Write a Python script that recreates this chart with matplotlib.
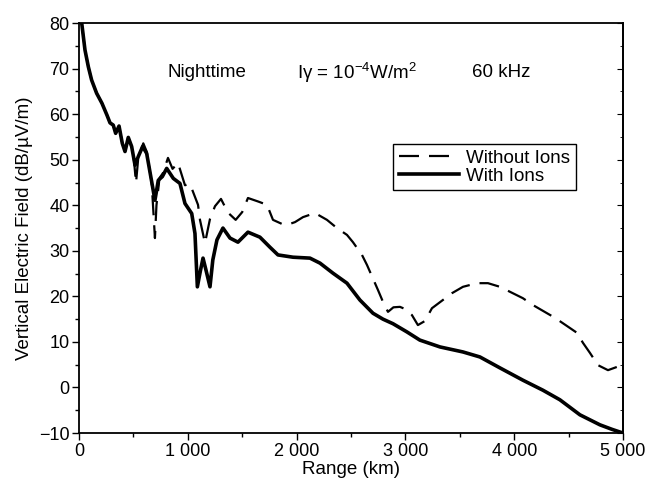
import matplotlib
matplotlib.use("Agg")
import matplotlib.pyplot as plt
from matplotlib.ticker import MultipleLocator

plt.rcParams['font.family'] = ['Liberation Sans', 'DejaVu Sans']
plt.rcParams['mathtext.fontset'] = 'custom'
plt.rcParams['mathtext.rm'] = 'Liberation Sans'

# Range (km) and field (dB/uV/m)
with_ions_x = [15, 25, 55, 86, 116, 162, 211, 257, 285, 315, 337, 368, 398, 423, 453,
               484, 515, 545, 585, 622, 668, 698, 729, 766, 806, 867, 928, 974, 1036,
               1066, 1088, 1115, 1140, 1170, 1204, 1230, 1268, 1323, 1388, 1461, 1553,
               1663, 1755, 1829, 1967, 2123, 2215, 2334, 2463, 2582, 2702, 2794, 2886,
               3014, 3133, 3318, 3529, 3685, 3869, 4080, 4264, 4420, 4604, 4788, 4900, 5000]
with_ions_y = [86, 80, 74.1, 70.4, 67.5, 64.6, 62.4, 59.8, 58.1, 57.6, 55.8, 57.4, 53.6,
               51.8, 54.9, 52.9, 48.8, 50.7, 52.9, 51.4, 45.2, 41.1, 45.5, 46.3, 48.1,
               45.9, 44.8, 40.4, 38.2, 33.8, 22.1, 25.5, 28.4, 25.5, 22.1, 28.0, 32.4,
               35.0, 32.8, 31.9, 34.1, 33.0, 30.8, 29.1, 28.6, 28.4, 27.3, 25.1, 22.9,
               19.2, 16.3, 15.0, 14.0, 12.2, 10.4, 8.9, 7.8, 6.7, 4.3, 1.6, -0.6, -2.7,
               -6.0, -8.2, -9.2, -10.0]

without_ions_x = [15, 25, 55, 86, 116, 162, 211, 257, 285, 315, 337, 368, 398, 423, 453,
                  484, 505, 524, 545, 591, 622, 668, 698, 712, 740, 770, 818, 860, 910,
                  974, 1020, 1094, 1112, 1158, 1204, 1250, 1305, 1369, 1440, 1500, 1553,
                  1650, 1728, 1783, 1866, 1912, 1985, 2059, 2169, 2279, 2371, 2463, 2518,
                  2601, 2647, 2748, 2794, 2840, 2890, 2950, 3000, 3060, 3115, 3180, 3244,
                  3428, 3529, 3658, 3759, 3869, 4080, 4172, 4374, 4485, 4577, 4632, 4696,
                  4770, 4862, 4920, 5000]
without_ions_y = [86, 80, 74.1, 70.4, 67.5, 64.6, 62.4, 59.8, 58.1, 57.6, 55.8, 57.4, 53.6,
                  51.8, 54.9, 52.9, 50.0, 44.9, 50.5, 53.6, 51.8, 45.0, 32.8, 40.0, 46.0,
                  47.0, 50.4, 48.0, 49.3, 44.4, 44.7, 40.1, 36.8, 31.7, 37.0, 39.8, 41.4,
                  38.4, 36.8, 38.5, 41.6, 40.8, 40.1, 36.8, 35.9, 35.7, 36.3, 37.4, 38.3,
                  36.8, 35.0, 33.5, 31.9, 29.1, 26.9, 21.4, 18.8, 16.6, 17.6, 17.7, 17.2,
                  15.9, 13.7, 14.6, 17.4, 20.7, 22.1, 22.9, 22.9, 22.1, 19.6, 18.1, 15.3,
                  13.5, 12.0, 9.8, 7.6, 4.9, 3.8, 4.3, 5.0]

x_ticks = [0, 1000, 2000, 3000, 4000, 5000]
x_tick_labels = ["0", "1 000", "2 000", "3 000", "4 000", "5 000"]
y_ticks = [-10, 0, 10, 20, 30, 40, 50, 60, 70, 80]
y_tick_labels = ["\u221210", "0", "10", "20", "30", "40", "50", "60", "70", "80"]

fig = plt.figure(figsize=(6.61, 4.86), dpi=100)
ax = fig.add_axes([0.1195, 0.109, 0.823, 0.8435])

ax.plot(without_ions_x, without_ions_y, color='black', lw=1.6,
        linestyle=(0, (9, 4.5)), label='Without Ions')
ax.plot(with_ions_x, with_ions_y, color='black', lw=2.6, label='With Ions')

ax.set_xlim(0, 5000)
ax.set_ylim(-10, 80)
ax.set_xticks(x_ticks)
ax.set_xticklabels(x_tick_labels)
ax.set_yticks(y_ticks)
ax.set_yticklabels(y_tick_labels)
ax.xaxis.set_minor_locator(MultipleLocator(500))
ax.yaxis.set_minor_locator(MultipleLocator(5))
ax.tick_params(which='major', direction='out', length=5, width=1, labelsize=13, pad=2)
ax.tick_params(which='minor', direction='out', length=3, width=1)
for s in ax.spines.values():
    s.set_linewidth(1.3)

# ticks pointing inward on the right side
rax = ax.secondary_yaxis('right')
rax.set_yticks(y_ticks)
rax.yaxis.set_minor_locator(MultipleLocator(5))
rax.tick_params(which='both', direction='in', labelright=False)
rax.tick_params(which='major', length=4)
rax.tick_params(which='minor', length=2.5)
rax.spines['right'].set_linewidth(1.3)

ax.set_xlabel("Range (km)", fontsize=13.5, labelpad=1)
ax.set_ylabel("Vertical Electric Field (dB/\u00b5V/m)", fontsize=13.5, labelpad=4)

ax.text(818, 69.2, "Nighttime", fontsize=13.5, ha='left', va='center')
ax.text(2003, 69.2, "I\u03b3 = 10$^{-4}$W/m$^{2}$", fontsize=13.5, ha='left', va='center')
ax.text(3612, 69.2, "60 kHz", fontsize=13.5, ha='left', va='center')

leg = ax.legend(loc='upper left', bbox_to_anchor=(0.577, 0.705), fontsize=13.5,
                frameon=True, fancybox=False, edgecolor='black', framealpha=1,
                handlelength=3.2, handletextpad=0.4, borderpad=0.3, labelspacing=0.05,
                borderaxespad=0)
leg.get_frame().set_linewidth(1.0)

fig.savefig("out.png", dpi=100)
